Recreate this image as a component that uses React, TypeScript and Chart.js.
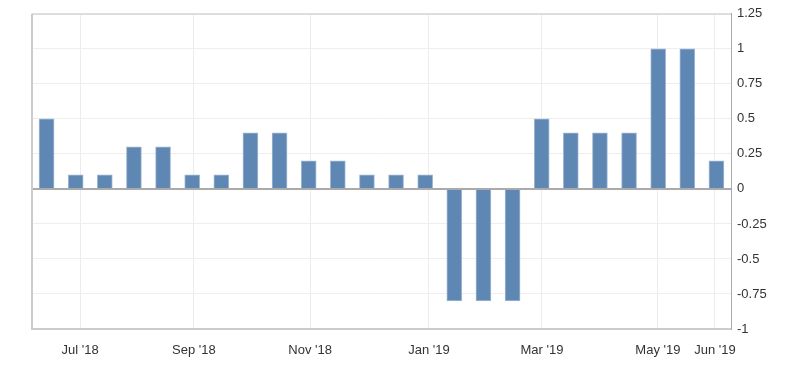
import React, { useEffect, useRef } from "react";
import { Chart, registerables } from "chart.js";

Chart.register(...registerables);

// Bar values (one bar per period, left to right)
const values = [
  0.5, 0.1, 0.1, 0.3, 0.3, 0.1, 0.1, 0.4, 0.4, 0.2, 0.2, 0.1,
  0.1, 0.1, -0.8, -0.8, -0.8, 0.5, 0.4, 0.4, 0.4, 1, 1, 0.2,
];

// X axis tick labels and where they fall, in bar-index units
const tickLabels = ["Jul '18", "Sep '18", "Nov '18", "Jan '19", "Mar '19", "May '19", "Jun '19"];
const tickIndex = [1.15, 5.06, 9.05, 13.13, 17.01, 20.99, 22.95];

// Y axis ticks
const yMin = -1;
const yMax = 1.25;
const yStep = 0.25;

const FONT = "Arial, 'Liberation Sans', sans-serif";

const framePlugin = {
  id: "frame",
  afterDraw(chart: any) {
    const { ctx, chartArea } = chart;
    ctx.save();
    ctx.strokeStyle = "#cccccc";
    ctx.lineWidth = 2;
    ctx.beginPath();
    ctx.moveTo(chartArea.left, chartArea.top);
    ctx.lineTo(chartArea.left, chartArea.bottom);
    ctx.stroke();
    ctx.restore();
  },
};

export default function App() {
  const ref = useRef<HTMLCanvasElement | null>(null);

  useEffect(() => {
    if (!ref.current) return;
    const chart = new Chart(ref.current, {
      type: "bar",
      data: {
        datasets: [
          {
            data: values.map((v, i) => ({ x: i, y: v })),
            backgroundColor: "#5f87b3",
            borderColor: "#a3b9d4",
            borderWidth: 1,
            barThickness: 15,
          },
        ],
      },
      options: {
        responsive: false,
        animation: false,
        layout: { padding: { left: 32, top: 11, right: 0, bottom: 0 } },
        plugins: {
          legend: { display: false },
          tooltip: { enabled: false },
        },
        scales: {
          x: {
            type: "linear",
            offset: false,
            min: -0.5,
            max: values.length - 0.5,
            afterBuildTicks: (scale: any) => {
              scale.ticks = tickIndex.map((v) => ({ value: v }));
            },
            afterFit: (scale: any) => {
              scale.height = 36;
            },
            grid: { color: "#ececec", lineWidth: 1, drawTicks: false, offset: false },
            border: { display: true, color: "#cccccc", width: 2 },
            ticks: {
              autoSkip: false,
              maxRotation: 0,
              padding: 14,
              color: "#333333",
              font: { family: FONT, size: 13 },
              callback: (_v: any, i: number) => tickLabels[i],
            },
          },
          y: {
            position: "right",
            min: yMin,
            max: yMax,
            afterFit: (scale: any) => {
              scale.width = 69;
            },
            grid: {
              drawTicks: false,
              color: (c: any) =>
                c.tick && c.tick.value === 0
                  ? "#aaaaaa"
                  : c.tick && c.tick.value === yMax
                  ? "#dddddd"
                  : "#eeeeee",
              lineWidth: (c: any) =>
                c.tick && (c.tick.value === 0 || c.tick.value === yMax) ? 2 : 1,
            },
            border: { display: true, color: "#aaaaaa", width: 1 },
            ticks: {
              stepSize: yStep,
              padding: 6,
              color: "#333333",
              font: { family: FONT, size: 13 },
              callback: (v: any) => String(v),
            },
          },
        },
      },
      plugins: [framePlugin],
    });
    return () => chart.destroy();
  }, []);

  return (
    <div style={{ position: "absolute", left: 0, top: 0, width: 800, height: 365, background: "#fff" }}>
      <canvas ref={ref} width={800} height={365} />
    </div>
  );
}
